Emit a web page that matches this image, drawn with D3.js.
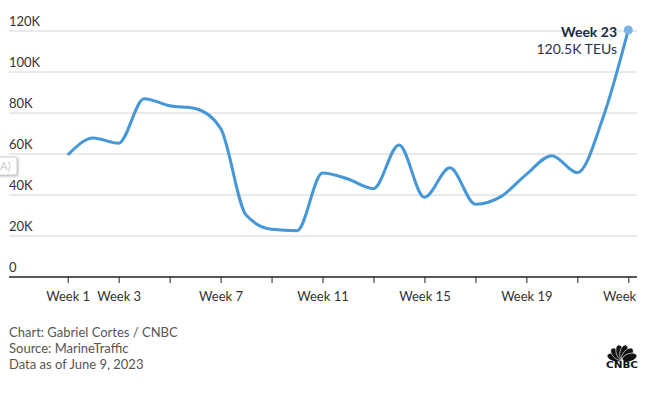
<!DOCTYPE html>
<html>
<head>
<meta charset="utf-8">
<script src="https://cdn.jsdelivr.net/npm/d3@7"></script>
<style>
  body { margin: 0; background: #fff; }
  svg { display: block; font-family: Lato, "Open Sans", sans-serif; }
</style>
</head>
<body>
<div id="chart"></div>
<script>
// weekly container volume (TEUs), weeks 1..23
const weeks = d3.range(1, 24);
const teus = [59500, 67800, 65300, 87000, 83500, 82200, 72500, 30200, 23300, 22600,
              50700, 47800, 43100, 64400, 38900, 53300, 35500, 39200, 50100, 59200,
              50900, 77400, 120500];
const yTicks = [0, 20000, 40000, 60000, 80000, 100000, 120000];
const tickWeeks = [1, 3, 5, 7, 9, 11, 13, 15, 17, 19, 21, 23];
const labelWeeks = [1, 3, 7, 11, 15, 19, 23];
const credits = ['Chart: Gabriel Cortes / CNBC', 'Source: MarineTraffic', 'Data as of June 9, 2023'];

const width = 659, height = 395;
const left = 9, right = 637;

const svg = d3.select('#chart').append('svg')
    .attr('width', width)
    .attr('height', height);

const x = d3.scaleLinear().domain([1, 23]).range([67.7, 628.3]);
const y = d3.scaleLinear().domain([0, 120000]).range([277, 31]);

// gridlines + y labels
svg.append('g').selectAll('line')
    .data(yTicks.filter(d => d > 0))
    .join('line')
    .attr('x1', left).attr('x2', right)
    .attr('y1', d => y(d)).attr('y2', d => y(d))
    .attr('stroke', '#d4d4d4').attr('stroke-width', 1);

svg.append('g').selectAll('text')
    .data(yTicks)
    .join('text')
    .attr('x', left)
    .attr('y', d => y(d) - 5)
    .attr('fill', '#333')
    .attr('font-size', 13)
    .text(d => d === 0 ? '0' : (d / 1000) + 'K');

// clip for axis labels (last one runs off the edge); local coords of the axis group
svg.append('clipPath').attr('id', 'axclip')
    .append('rect').attr('x', 0).attr('y', -5).attr('width', 638).attr('height', 40);

const xAxis = d3.axisBottom(x)
    .tickValues(tickWeeks)
    .tickSize(6)
    .tickPadding(9)
    .tickFormat(d => labelWeeks.includes(d) ? 'Week ' + d : '');

const ax = svg.append('g')
    .attr('transform', `translate(0, ${y(0)})`)
    .attr('clip-path', 'url(#axclip)')
    .call(xAxis);
ax.select('.domain').remove();
ax.selectAll('.tick line').attr('stroke', '#222');
ax.selectAll('.tick text')
    .attr('font-family', 'Lato, "Open Sans", sans-serif')
    .attr('font-size', 13)
    .attr('fill', '#333');
svg.append('line')
    .attr('x1', left).attr('x2', right)
    .attr('y1', y(0)).attr('y2', y(0))
    .attr('stroke', '#222').attr('stroke-width', 1.5);

// stray tooltip box at the left edge
const tip = svg.append('g');
tip.append('rect')
    .attr('x', -6).attr('y', 157).attr('width', 23).attr('height', 18).attr('rx', 2)
    .attr('fill', '#fff').attr('stroke', '#ccc')
    .style('filter', 'drop-shadow(1px 1px 1px rgba(0,0,0,0.25))');
tip.append('text')
    .attr('x', 0).attr('y', 170)
    .attr('font-size', 11).attr('fill', '#ccc')
    .text('A)');

// line
const line = d3.line()
    .x((d, i) => x(weeks[i]))
    .y(d => y(d))
    .curve(d3.curveMonotoneX);

svg.append('path')
    .datum(teus)
    .attr('d', line)
    .attr('fill', 'none')
    .attr('stroke', '#4597d8')
    .attr('stroke-width', 3)
    .attr('stroke-linejoin', 'round');

const last = teus.length - 1;
svg.append('circle')
    .attr('cx', x(weeks[last]))
    .attr('cy', y(teus[last]))
    .attr('r', 4.5)
    .attr('fill', '#79b4e6');

svg.append('text')
    .attr('x', 617).attr('y', 37)
    .attr('text-anchor', 'end')
    .attr('font-size', 14).attr('font-weight', 700)
    .attr('fill', '#17294a')
    .text('Week ' + weeks[last]);
svg.append('text')
    .attr('x', 617).attr('y', 54)
    .attr('text-anchor', 'end')
    .attr('font-size', 14)
    .attr('fill', '#24344f')
    .text((teus[last] / 1000).toFixed(1) + 'K TEUs');

// credits
svg.append('g').selectAll('text')
    .data(credits)
    .join('text')
    .attr('x', left)
    .attr('y', (d, i) => 337 + i * 16)
    .attr('font-size', 13)
    .attr('fill', '#555')
    .text(d => d);

// CNBC peacock
const logo = svg.append('g').attr('transform', 'translate(622, 360)');
[-72, -43, -14, 14, 43, 72].forEach(a => {
    logo.append('ellipse')
        .attr('cx', 0).attr('cy', -8)
        .attr('rx', 4).attr('ry', 7.5)
        .attr('transform', `rotate(${a})`)
        .attr('fill', '#111')
        .attr('stroke', '#fff').attr('stroke-width', 0.6);
});
logo.append('text')
    .attr('x', 0).attr('y', 8)
    .attr('text-anchor', 'middle')
    .attr('font-family', '"DejaVu Sans", sans-serif')
    .attr('font-size', 8).attr('font-weight', 700)
    .attr('textLength', 32).attr('lengthAdjust', 'spacingAndGlyphs')
    .attr('fill', '#111')
    .text('CNBC');
</script>
</body>
</html>
